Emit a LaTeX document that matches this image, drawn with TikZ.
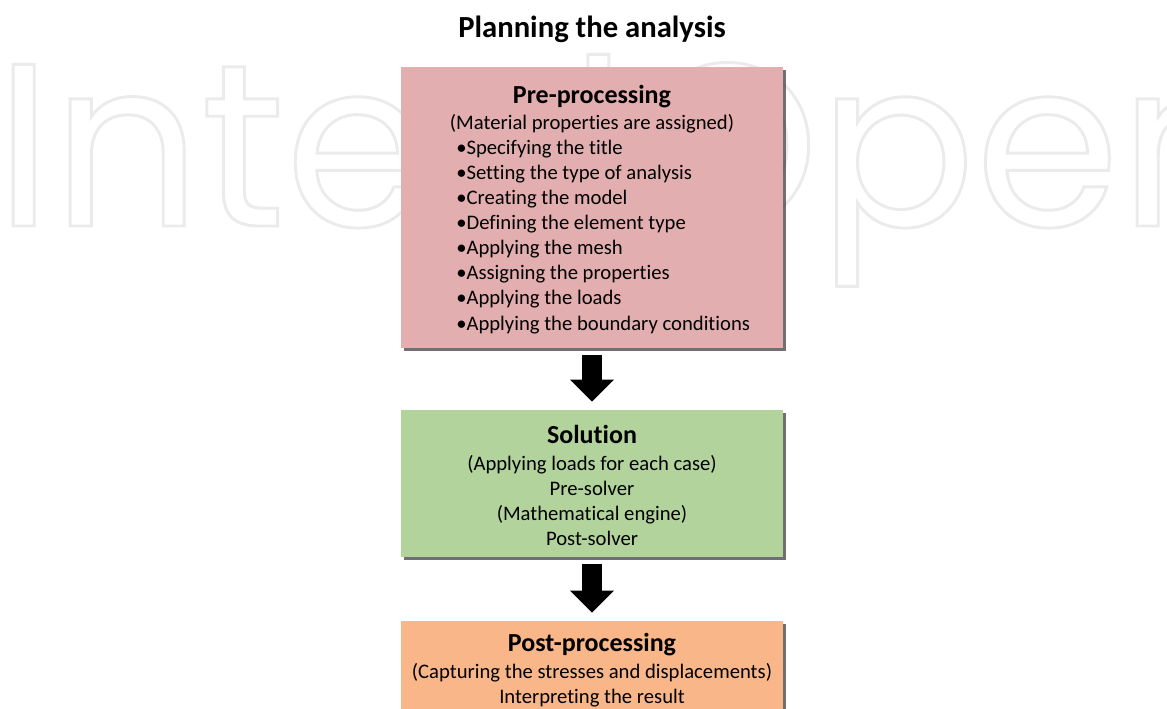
\documentclass[tikz,border=0pt]{standalone}
\usepackage{fontspec}
\setmainfont{Carlito}[Ligatures=NoCommon]
\newfontfamily\markfont{Poppins}
\usetikzlibrary{shadows,arrows.meta}
\definecolor{prepink}{RGB}{227,174,175}
\definecolor{solgreen}{RGB}{179,211,157}
\definecolor{postorange}{RGB}{249,182,137}
\definecolor{markgray}{RGB}{235,235,235}
\newcommand{\outlined}[1]{\special{pdf:literal direct 1 Tr 2.2 w}#1\special{pdf:literal direct 0 Tr}}

\begin{document}
\begin{tikzpicture}[x=0.75pt,y=-0.75pt]
\tikzstyle{stage} = [rectangle, minimum width=286.5pt, inner sep=0pt, drop shadow={shadow xshift=2.5pt, shadow yshift=-2.5pt, fill=black!70, opacity=0.8}]
\tikzstyle{head} = [anchor=base, inner sep=0pt, font=\fontsize{19.5}{23}\selectfont\bfseries]
\tikzstyle{body} = [anchor=base, inner sep=0pt, font=\fontsize{15.5}{19}\selectfont]
\tikzstyle{item} = [body, anchor=base west]
\tikzstyle{logo} = [anchor=base west, inner sep=0pt, font=\markfont\fontsize{174}{174}\selectfont, text=markgray]
\tikzstyle{flow} = [line width=15pt, -{Triangle[width=32pt,length=16.5pt]}, shorten <=5.25pt, shorten >=6pt]

\clip (0,0) rectangle (1167,709);
% background mark
\node[logo] (markleft) at (-5,226) {\outlined{Intech}};
\node[logo] (markright) at (636,226) {\outlined{Open}};

% title
\node[anchor=base, inner sep=0pt, font=\fontsize{23}{27}\selectfont\bfseries] (title) at (592,38) {Planning the analysis};

% stages
\node[stage, fill=prepink, minimum height=210.75pt] (pre) at (592,207.5) {};
\node[stage, fill=solgreen, minimum height=110.25pt] (sol) at (592,483.5) {};
\node[stage, fill=postorange, minimum height=104.25pt] (post) at (592,690.5) {};

\node[head] (prehead) at (592,104) {Pre-processing};
\node[body] (prenote) at (592,130) {(Material properties are assigned)};
\foreach \txt [count=\i] in {Specifying the title, Setting the type of analysis, Creating the model, Defining the element type, Applying the mesh, Assigning the properties, Applying the loads, Applying the boundary conditions}
  \node[item] (preitem\i) at (456,130+25*\i) {•\txt};

\node[head] (solhead) at (592,443) {Solution};
\foreach \txt [count=\i] in {(Applying loads for each case), Pre-solver, (Mathematical engine), Post-solver}
  \node[body] (solitem\i) at (592,445+25*\i) {\txt};

\node[head] (posthead) at (592,651) {Post-processing};
\node[body] (postnote) at (592,678) {(Capturing the stresses and displacements)};
\node[body] (postitem) at (592,703) {Interpreting the result};

% arrows
\draw[flow] (pre) -- (sol);
\draw[flow] (sol) -- (post);
\end{tikzpicture}
\end{document}
